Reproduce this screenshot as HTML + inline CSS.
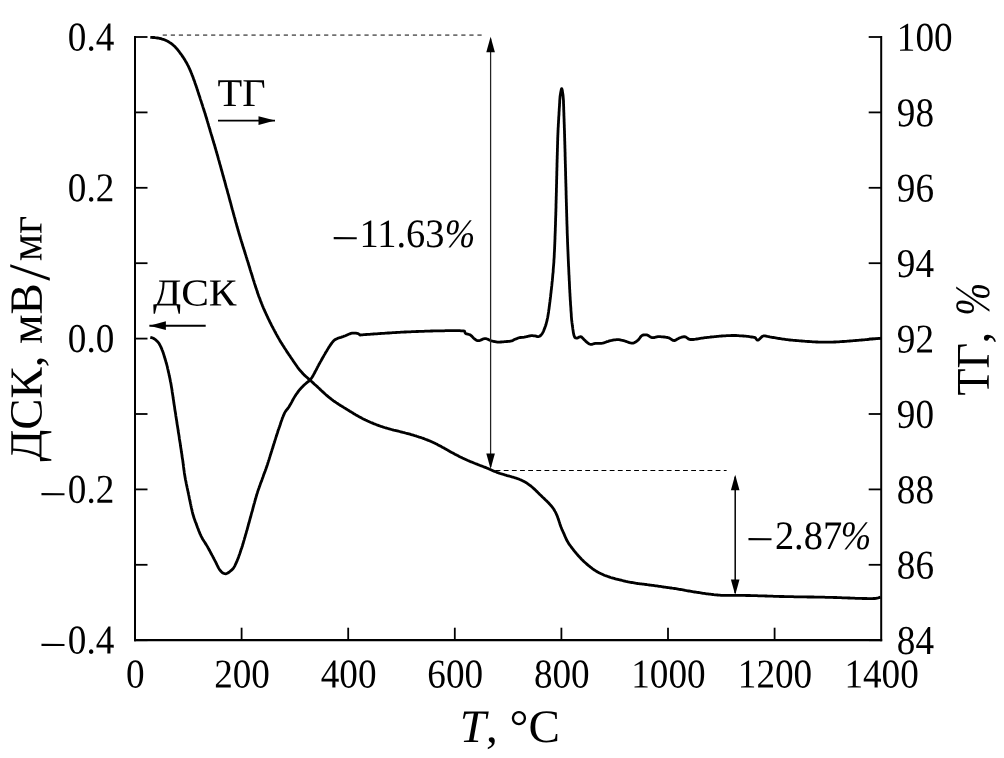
<!DOCTYPE html>
<html lang="ru">
<head>
<meta charset="utf-8">
<title>ТГ / ДСК</title>
<style>
html,body{margin:0;padding:0;background:#fff;}
body{width:1004px;height:758px;overflow:hidden;}
svg{display:block;}
</style>
</head>
<body>
<svg width="1004" height="758" viewBox="0 0 1004 758" role="img" aria-label="ТГ и ДСК кривые">
<rect width="1004" height="758" fill="#fff"/>
<g fill="none" stroke="#000" stroke-width="2" stroke-linecap="butt" stroke-linejoin="miter">
<path d="M135.0,36.0 V641.3000000000001 M881.2,36.0 V641.3000000000001"/>
<path d="M134.0,640.2 H882.2" stroke-width="2.3"/>
</g>
<g fill="none" stroke="#000" stroke-width="1.8">
<path d="M135.0,37.00 h12.5"/>
<path d="M881.2,37.00 h-12.5"/>
<path d="M135.0,112.40 h12.5"/>
<path d="M881.2,112.40 h-12.5"/>
<path d="M135.0,187.80 h12.5"/>
<path d="M881.2,187.80 h-12.5"/>
<path d="M135.0,263.20 h12.5"/>
<path d="M881.2,263.20 h-12.5"/>
<path d="M135.0,338.60 h12.5"/>
<path d="M881.2,338.60 h-12.5"/>
<path d="M135.0,414.00 h12.5"/>
<path d="M881.2,414.00 h-12.5"/>
<path d="M135.0,489.40 h12.5"/>
<path d="M881.2,489.40 h-12.5"/>
<path d="M135.0,564.80 h12.5"/>
<path d="M881.2,564.80 h-12.5"/>
<path d="M135.0,640.20 h12.5"/>
<path d="M881.2,640.20 h-12.5"/>
<path d="M241.60,640.2 v-12.5"/>
<path d="M348.20,640.2 v-12.5"/>
<path d="M454.80,640.2 v-12.5"/>
<path d="M561.40,640.2 v-12.5"/>
<path d="M668.00,640.2 v-12.5"/>
<path d="M774.60,640.2 v-12.5"/>
</g>
<path d="M162.7,35.1 H482.5" stroke="#707070" stroke-width="1.6" stroke-dasharray="4.2 3.87" fill="none"/>
<path d="M495.6,470.5 H726.6" stroke="#000" stroke-width="1.15" stroke-dasharray="4.8 3.35" fill="none"/>
<g fill="none" stroke="#000" stroke-width="2.8" stroke-linejoin="round" stroke-linecap="butt">
<polyline points="150.3,37.3 152.0,37.4 152.9,37.5 154.0,37.5 155.1,37.7 156.3,37.8 157.5,38.0 158.7,38.2 159.8,38.5 161.0,38.7 162.2,39.1 163.3,39.4 164.4,39.8 165.5,40.3 166.6,40.8 167.7,41.3 168.8,41.9 169.8,42.6 170.8,43.2 171.7,43.9 172.7,44.7 173.6,45.5 174.5,46.3 175.3,47.1 176.1,48.0 176.9,48.9 177.7,49.8 178.5,50.8 179.2,51.7 179.9,52.7 180.6,53.7 181.4,54.6 182.0,55.6 182.7,56.6 183.4,57.6 184.0,58.6 184.7,59.6 185.3,60.7 185.9,61.7 186.5,62.7 187.1,63.8 187.6,64.9 188.2,65.9 188.7,67.0 189.2,68.1 189.7,69.2 190.2,70.3 190.7,71.4 191.1,72.5 191.6,73.6 192.0,74.8 192.5,75.9 192.9,77.0 193.3,78.1 193.7,79.3 194.1,80.4 194.6,81.5 194.9,82.7 195.3,83.8 195.7,84.9 196.1,86.1 196.5,87.2 196.9,88.3 197.2,89.5 197.6,90.6 198.0,91.8 198.4,92.9 198.7,94.1 199.1,95.2 199.5,96.3 199.9,97.5 200.2,98.6 200.6,99.8 201.0,100.9 201.4,102.1 201.7,103.2 202.1,104.3 202.5,105.5 202.8,106.6 203.2,107.8 203.6,108.9 203.9,110.1 204.3,111.2 204.7,112.4 205.0,113.5 205.4,114.6 205.7,115.8 206.1,116.9 206.4,118.1 206.8,119.2 207.1,120.4 207.5,121.6 207.8,122.7 208.2,123.9 208.5,125.0 208.8,126.2 209.2,127.3 209.5,128.5 209.9,129.6 210.2,130.8 210.5,131.9 210.9,133.1 211.2,134.2 211.6,135.4 211.9,136.5 212.3,137.7 212.6,138.8 212.9,140.0 213.3,141.1 213.6,142.3 214.0,143.4 214.3,144.6 214.7,145.7 215.0,146.9 215.3,148.1 215.7,149.2 216.0,150.4 216.3,151.5 216.7,152.7 217.0,153.8 217.3,155.0 217.7,156.1 218.0,157.3 218.3,158.5 218.6,159.6 219.0,160.8 219.3,161.9 219.6,163.1 219.9,164.2 220.3,165.4 220.6,166.6 220.9,167.7 221.2,168.9 221.5,170.0 221.9,171.2 222.2,172.3 222.5,173.5 222.8,174.7 223.1,175.8 223.5,177.0 223.8,178.1 224.1,179.3 224.4,180.5 224.8,181.6 225.1,182.8 225.4,183.9 225.7,185.1 226.0,186.3 226.3,187.4 226.7,188.6 227.0,189.7 227.3,190.9 227.6,192.0 227.9,193.2 228.3,194.4 228.6,195.5 228.9,196.7 229.2,197.8 229.5,199.0 229.8,200.2 230.1,201.3 230.5,202.5 230.8,203.6 231.1,204.8 231.4,206.0 231.7,207.1 232.0,208.3 232.3,209.4 232.7,210.6 233.0,211.8 233.3,212.9 233.6,214.1 233.9,215.2 234.2,216.4 234.6,217.6 234.9,218.7 235.2,219.9 235.5,221.0 235.8,222.2 236.2,223.4 236.5,224.5 236.8,225.7 237.1,226.8 237.5,228.0 237.8,229.1 238.1,230.3 238.5,231.5 238.8,232.6 239.1,233.8 239.5,234.9 239.8,236.1 240.2,237.2 240.5,238.4 240.9,239.5 241.2,240.7 241.6,241.8 241.9,243.0 242.3,244.1 242.6,245.3 243.0,246.4 243.3,247.6 243.7,248.7 244.1,249.8 244.4,251.0 244.8,252.1 245.1,253.3 245.5,254.4 245.9,255.6 246.2,256.7 246.6,257.9 246.9,259.0 247.3,260.2 247.7,261.3 248.0,262.5 248.4,263.6 248.7,264.8 249.1,265.9 249.4,267.1 249.8,268.2 250.1,269.4 250.5,270.5 250.8,271.7 251.2,272.8 251.6,274.0 251.9,275.1 252.3,276.2 252.6,277.4 253.0,278.5 253.3,279.7 253.7,280.8 254.1,282.0 254.4,283.1 254.8,284.3 255.2,285.4 255.5,286.6 255.9,287.7 256.3,288.8 256.7,290.0 257.1,291.1 257.4,292.3 257.8,293.4 258.2,294.5 258.6,295.7 259.0,296.8 259.5,297.9 259.9,299.1 260.3,300.2 260.7,301.3 261.2,302.4 261.6,303.5 262.1,304.7 262.5,305.8 263.0,306.9 263.4,308.0 263.9,309.1 264.4,310.2 264.9,311.3 265.4,312.4 265.9,313.5 266.4,314.6 266.9,315.7 267.4,316.7 267.9,317.8 268.4,318.9 269.0,320.0 269.5,321.1 270.0,322.2 270.6,323.2 271.1,324.3 271.6,325.4 272.2,326.5 272.8,327.5 273.3,328.6 273.9,329.7 274.4,330.7 275.0,331.8 275.6,332.8 276.1,333.9 276.7,334.9 277.3,336.0 277.9,337.0 278.5,338.1 279.1,339.1 279.7,340.2 280.3,341.2 280.9,342.2 281.6,343.3 282.2,344.3 282.8,345.3 283.5,346.3 284.1,347.3 284.7,348.3 285.4,349.3 286.1,350.3 286.7,351.4 287.4,352.4 288.1,353.4 288.7,354.4 289.4,355.3 290.1,356.3 290.7,357.3 291.4,358.3 292.1,359.3 292.8,360.3 293.4,361.3 294.1,362.3 294.8,363.3 295.5,364.3 296.2,365.3 296.9,366.3 297.6,367.3 298.3,368.2 299.0,369.2 299.8,370.1 300.6,371.0 301.4,371.9 302.2,372.8 303.0,373.7 303.8,374.5 304.7,375.4 305.6,376.2 306.5,377.0 307.4,377.8 308.3,378.6 309.2,379.4 310.1,380.2 311.0,381.0 311.9,381.8 312.8,382.6 313.7,383.4 314.5,384.2 315.4,385.0 316.3,385.8 317.2,386.6 318.1,387.5 319.0,388.3 319.8,389.1 320.7,389.9 321.6,390.8 322.5,391.6 323.4,392.4 324.3,393.2 325.1,394.0 326.0,394.8 327.0,395.6 327.9,396.4 328.8,397.2 329.7,397.9 330.7,398.7 331.6,399.4 332.6,400.1 333.5,400.8 334.5,401.5 335.5,402.2 336.5,402.9 337.5,403.5 338.5,404.2 339.5,404.8 340.5,405.5 341.6,406.1 342.6,406.7 343.6,407.4 344.6,408.0 345.7,408.6 346.7,409.3 347.7,409.9 348.7,410.5 349.7,411.2 350.8,411.8 351.8,412.4 352.8,413.0 353.8,413.7 354.9,414.3 355.9,414.9 357.0,415.5 358.0,416.1 359.1,416.7 360.1,417.2 361.2,417.8 362.2,418.4 363.3,418.9 364.4,419.4 365.5,420.0 366.6,420.5 367.6,421.0 368.7,421.5 369.8,422.0 370.9,422.5 372.0,422.9 373.2,423.4 374.3,423.9 375.4,424.3 376.5,424.7 377.6,425.2 378.8,425.6 379.9,426.0 381.0,426.4 382.2,426.7 383.3,427.1 384.5,427.5 385.6,427.8 386.8,428.2 387.9,428.5 389.1,428.8 390.2,429.2 391.4,429.5 392.6,429.8 393.7,430.1 394.9,430.3 396.1,430.6 397.2,430.9 398.4,431.2 399.6,431.5 400.7,431.8 401.9,432.1 403.1,432.4 404.2,432.6 405.4,433.0 406.6,433.3 407.7,433.6 408.9,433.9 410.0,434.2 411.2,434.6 412.3,434.9 413.5,435.2 414.6,435.6 415.8,435.9 416.9,436.3 418.1,436.7 419.2,437.1 420.4,437.4 421.5,437.8 422.6,438.2 423.8,438.6 424.9,439.1 426.0,439.5 427.1,439.9 428.3,440.4 429.4,440.8 430.5,441.3 431.6,441.8 432.7,442.3 433.8,442.8 434.9,443.3 435.9,443.8 437.0,444.3 438.1,444.9 439.1,445.4 440.2,446.0 441.3,446.6 442.3,447.2 443.4,447.7 444.4,448.3 445.5,448.9 446.5,449.5 447.6,450.1 448.6,450.7 449.6,451.3 450.7,451.9 451.8,452.5 452.8,453.0 453.9,453.6 454.9,454.2 456.0,454.7 457.1,455.3 458.1,455.8 459.2,456.4 460.3,456.9 461.4,457.4 462.4,458.0 463.5,458.5 464.6,459.0 465.7,459.5 466.8,460.0 467.9,460.5 469.0,460.9 470.1,461.4 471.2,461.9 472.3,462.3 473.4,462.8 474.6,463.3 475.7,463.7 476.8,464.1 477.9,464.6 479.0,465.0 480.2,465.5 481.3,465.9 482.4,466.3 483.5,466.7 484.6,467.2 485.8,467.6 486.9,468.1 488.0,468.5 489.1,469.0 490.2,469.5 491.3,469.9 492.4,470.4 493.5,470.9 494.6,471.4 495.7,471.8 496.8,472.3 498.0,472.7 499.1,473.1 500.2,473.5 501.4,473.8 502.5,474.2 503.7,474.5 504.8,474.9 506.0,475.2 507.1,475.6 508.3,475.9 509.5,476.2 510.6,476.5 511.8,476.9 512.9,477.2 514.1,477.5 515.2,477.9 516.4,478.2 517.5,478.6 518.7,479.0 519.8,479.5 520.9,479.9 522.0,480.4 523.0,481.0 524.1,481.5 525.1,482.1 526.2,482.7 527.2,483.4 528.2,484.1 529.2,484.8 530.1,485.5 531.1,486.2 532.0,487.0 532.9,487.8 533.8,488.6 534.7,489.4 535.6,490.2 536.4,491.1 537.3,491.9 538.1,492.8 539.0,493.6 539.8,494.5 540.7,495.3 541.5,496.1 542.4,497.0 543.3,497.8 544.2,498.6 545.0,499.4 545.9,500.3 546.8,501.1 547.6,501.9 548.5,502.8 549.3,503.7 550.1,504.6 550.9,505.5 551.7,506.4 552.4,507.3 553.1,508.3 553.8,509.3 554.4,510.3 555.0,511.4 555.6,512.4 556.1,513.5 556.6,514.6 557.1,515.7 557.5,516.8 557.9,517.9 558.3,519.1 558.7,520.2 559.1,521.4 559.5,522.5 559.8,523.7 560.2,524.8 560.6,525.9 561.0,527.0 561.5,528.2 561.9,529.3 562.4,530.4 562.9,531.5 563.4,532.6 563.9,533.7 564.4,534.8 564.8,535.9 565.3,537.0 565.8,538.1 566.3,539.2 566.8,540.3 567.4,541.3 568.0,542.3 568.6,543.4 569.3,544.4 570.0,545.3 570.7,546.3 571.4,547.3 572.2,548.2 572.9,549.2 573.6,550.1 574.4,551.1 575.1,552.0 575.9,552.9 576.7,553.9 577.5,554.8 578.3,555.7 579.1,556.6 579.9,557.4 580.7,558.3 581.5,559.2 582.4,560.0 583.2,560.9 584.1,561.7 585.0,562.5 585.9,563.3 586.8,564.1 587.7,564.9 588.6,565.7 589.6,566.4 590.5,567.2 591.5,567.9 592.4,568.6 593.4,569.3 594.4,570.0 595.4,570.6 596.4,571.3 597.5,571.9 598.5,572.5 599.6,573.1 600.6,573.6 601.7,574.1 602.8,574.6 603.9,575.1 605.0,575.5 606.2,575.9 607.3,576.3 608.4,576.7 609.6,577.1 610.7,577.5 611.9,577.8 613.0,578.1 614.2,578.4 615.4,578.8 616.5,579.1 617.7,579.4 618.8,579.7 620.0,580.0 621.2,580.2 622.3,580.5 623.5,580.8 624.7,581.1 625.9,581.4 627.0,581.6 628.2,581.9 629.4,582.1 630.6,582.3 631.8,582.5 632.9,582.7 634.1,582.9 635.3,583.1 636.5,583.3 637.7,583.5 638.9,583.6 640.1,583.8 641.3,583.9 642.5,584.1 643.6,584.2 644.8,584.4 646.0,584.5 647.2,584.7 648.4,584.8 649.6,585.0 650.8,585.1 652.0,585.3 653.2,585.4 654.4,585.6 655.6,585.8 656.8,585.9 658.0,586.1 659.1,586.3 660.3,586.4 661.5,586.6 662.7,586.8 663.9,587.0 665.1,587.1 666.3,587.3 667.5,587.5 668.7,587.6 669.8,587.8 671.0,588.0 672.2,588.2 673.4,588.3 674.6,588.5 675.8,588.7 677.0,588.9 678.2,589.1 679.3,589.3 680.5,589.5 681.7,589.7 682.9,589.9 684.1,590.1 685.3,590.4 686.5,590.6 687.6,590.8 688.8,591.0 690.0,591.2 691.2,591.4 692.4,591.6 693.6,591.8 694.7,592.0 695.9,592.2 697.1,592.4 698.3,592.5 699.5,592.7 700.7,592.9 701.9,593.1 703.1,593.3 704.3,593.4 705.4,593.6 706.6,593.8 707.8,593.9 709.0,594.1 710.2,594.2 711.4,594.4 712.6,594.5 713.8,594.7 715.0,594.8 716.2,594.9 717.4,595.0 718.6,595.1 719.8,595.2 721.0,595.3 722.2,595.3 723.4,595.4 724.6,595.4 725.8,595.4 727.0,595.4 728.2,595.4 729.4,595.4 730.6,595.4 731.8,595.4 733.0,595.4 734.2,595.4 735.4,595.4 736.6,595.4 737.8,595.4 739.0,595.4 740.2,595.4 741.4,595.4 742.6,595.4 743.8,595.4 745.0,595.4 746.2,595.5 747.4,595.5 748.6,595.5 749.8,595.5 751.0,595.6 752.2,595.6 753.4,595.6 754.6,595.6 755.8,595.7 757.0,595.7 758.2,595.8 759.4,595.8 760.6,595.8 761.8,595.9 763.0,595.9 764.2,595.9 765.4,596.0 766.6,596.0 767.8,596.1 769.0,596.1 770.2,596.2 771.4,596.2 772.6,596.2 773.8,596.3 775.0,596.3 776.2,596.3 777.5,596.4 778.7,596.4 779.9,596.5 781.1,596.5 782.3,596.5 783.5,596.5 784.7,596.6 785.9,596.6 787.1,596.6 788.3,596.7 789.5,596.7 790.7,596.7 791.9,596.7 793.1,596.7 794.3,596.8 795.5,596.8 796.7,596.8 797.9,596.8 799.1,596.8 800.3,596.9 801.5,596.9 802.7,596.9 803.9,596.9 805.1,596.9 806.3,596.9 807.5,597.0 808.7,597.0 809.9,597.0 811.1,597.0 812.3,597.0 813.5,597.0 814.7,597.1 815.9,597.1 817.1,597.1 818.3,597.1 819.5,597.1 820.7,597.2 821.9,597.2 823.1,597.2 824.3,597.2 825.5,597.3 826.7,597.3 827.9,597.3 829.1,597.3 830.3,597.4 831.5,597.4 832.7,597.4 833.9,597.5 835.1,597.5 836.3,597.5 837.5,597.6 838.7,597.6 839.9,597.7 841.1,597.7 842.3,597.8 843.5,597.8 844.7,597.9 845.9,597.9 847.1,597.9 848.3,598.0 849.5,598.0 850.7,598.1 851.9,598.1 853.1,598.2 854.3,598.2 855.5,598.3 856.7,598.3 857.9,598.3 859.1,598.4 860.3,598.4 861.5,598.4 862.7,598.5 863.9,598.5 865.1,598.5 866.3,598.5 867.5,598.6 868.8,598.6 870.0,598.6 871.2,598.6 872.4,598.6 873.6,598.5 874.8,598.5 876.0,598.4 877.1,598.2 878.1,598.0 879.0,597.7 880.6,597.2"/>
<polyline points="150.3,337.3 151.5,337.6 152.7,338.0 153.7,338.5 154.7,339.2 155.7,339.9 156.6,340.7 157.5,341.6 158.3,342.5 159.0,343.4 159.6,344.5 160.2,345.6 160.7,346.6 161.2,347.7 161.7,348.8 162.1,350.0 162.6,351.1 163.0,352.2 163.4,353.3 163.7,354.5 164.1,355.6 164.4,356.8 164.8,357.9 165.1,359.1 165.5,360.2 165.8,361.4 166.1,362.5 166.5,363.7 166.8,364.8 167.1,366.0 167.4,367.2 167.6,368.3 167.9,369.5 168.2,370.7 168.4,371.9 168.7,373.0 169.0,374.2 169.2,375.4 169.5,376.6 169.7,377.7 170.0,378.9 170.2,380.1 170.4,381.3 170.7,382.4 170.9,383.6 171.1,384.8 171.3,386.0 171.5,387.2 171.7,388.3 171.9,389.5 172.1,390.7 172.2,391.9 172.4,393.1 172.6,394.3 172.8,395.5 173.0,396.7 173.1,397.8 173.3,399.0 173.5,400.2 173.7,401.4 173.8,402.6 174.0,403.8 174.2,405.0 174.4,406.2 174.6,407.3 174.7,408.5 174.9,409.7 175.1,410.9 175.3,412.1 175.5,413.3 175.7,414.5 175.8,415.7 176.0,416.8 176.2,418.0 176.4,419.2 176.6,420.4 176.8,421.6 176.9,422.8 177.1,424.0 177.3,425.2 177.5,426.3 177.7,427.5 177.9,428.7 178.1,429.9 178.2,431.1 178.4,432.3 178.6,433.5 178.8,434.6 179.0,435.8 179.2,437.0 179.3,438.2 179.5,439.4 179.7,440.6 179.9,441.8 180.1,443.0 180.3,444.1 180.4,445.3 180.6,446.5 180.8,447.7 181.0,448.9 181.2,450.1 181.3,451.3 181.5,452.5 181.7,453.6 181.9,454.8 182.0,456.0 182.2,457.2 182.4,458.4 182.6,459.6 182.8,460.8 182.9,462.0 183.1,463.1 183.2,464.3 183.4,465.5 183.5,466.7 183.7,467.9 183.8,469.1 184.0,470.3 184.2,471.5 184.3,472.7 184.5,473.9 184.7,475.0 184.9,476.2 185.1,477.4 185.3,478.6 185.5,479.8 185.8,481.0 186.0,482.1 186.2,483.3 186.5,484.5 186.7,485.7 187.0,486.8 187.2,488.0 187.5,489.2 187.7,490.4 188.0,491.5 188.2,492.7 188.5,493.9 188.7,495.1 189.0,496.2 189.2,497.4 189.4,498.6 189.7,499.8 189.9,500.9 190.2,502.1 190.4,503.3 190.7,504.5 190.9,505.6 191.2,506.8 191.4,508.0 191.7,509.2 192.0,510.3 192.2,511.5 192.5,512.7 192.8,513.8 193.1,515.0 193.5,516.1 193.8,517.3 194.2,518.4 194.6,519.6 195.0,520.7 195.4,521.8 195.9,522.9 196.3,524.1 196.7,525.2 197.1,526.3 197.5,527.5 198.0,528.6 198.4,529.7 198.8,530.8 199.3,531.9 199.7,533.1 200.2,534.2 200.7,535.2 201.2,536.3 201.8,537.4 202.3,538.5 202.9,539.5 203.6,540.5 204.2,541.5 204.9,542.5 205.5,543.6 206.2,544.6 206.8,545.6 207.4,546.6 208.0,547.7 208.6,548.7 209.1,549.8 209.7,550.8 210.3,551.9 210.8,553.0 211.4,554.0 212.0,555.1 212.6,556.1 213.1,557.2 213.7,558.2 214.2,559.3 214.8,560.4 215.3,561.4 215.9,562.5 216.4,563.6 216.9,564.7 217.5,565.8 218.0,566.8 218.5,567.9 219.1,568.9 219.7,569.9 220.5,570.8 221.4,571.8 222.4,572.7 223.5,573.3 224.6,573.7 225.7,573.8 226.7,573.5 227.8,573.0 228.9,572.3 229.9,571.5 230.9,570.7 231.9,569.9 232.7,569.0 233.5,568.1 234.1,567.1 234.7,566.1 235.2,565.0 235.7,563.9 236.2,562.8 236.7,561.7 237.2,560.6 237.6,559.5 238.1,558.4 238.5,557.3 238.9,556.1 239.3,555.0 239.7,553.9 240.1,552.7 240.5,551.6 240.8,550.4 241.2,549.3 241.6,548.2 242.0,547.0 242.4,545.9 242.7,544.7 243.1,543.6 243.4,542.4 243.7,541.3 244.1,540.1 244.4,539.0 244.7,537.8 245.1,536.7 245.4,535.5 245.7,534.4 246.1,533.2 246.4,532.0 246.7,530.9 247.1,529.7 247.4,528.6 247.7,527.4 248.0,526.3 248.3,525.1 248.6,523.9 249.0,522.8 249.3,521.6 249.6,520.5 249.9,519.3 250.2,518.2 250.6,517.0 250.9,515.8 251.2,514.7 251.5,513.5 251.8,512.4 252.2,511.2 252.5,510.1 252.8,508.9 253.1,507.7 253.4,506.6 253.7,505.4 254.0,504.3 254.4,503.1 254.7,501.9 255.0,500.8 255.3,499.6 255.7,498.5 256.0,497.3 256.3,496.2 256.7,495.0 257.0,493.9 257.4,492.7 257.7,491.6 258.1,490.4 258.5,489.3 258.9,488.2 259.3,487.0 259.7,485.9 260.1,484.8 260.5,483.6 260.9,482.5 261.4,481.4 261.8,480.3 262.2,479.1 262.6,478.0 263.0,476.9 263.4,475.7 263.8,474.6 264.2,473.5 264.6,472.4 265.1,471.2 265.5,470.1 265.9,469.0 266.3,467.8 266.7,466.7 267.1,465.6 267.5,464.4 267.8,463.3 268.2,462.1 268.5,461.0 268.9,459.9 269.3,458.7 269.6,457.6 270.0,456.4 270.3,455.3 270.7,454.1 271.1,453.0 271.4,451.8 271.8,450.7 272.1,449.5 272.5,448.4 272.9,447.3 273.2,446.1 273.6,445.0 273.9,443.8 274.3,442.7 274.7,441.5 275.0,440.4 275.4,439.2 275.7,438.1 276.1,436.9 276.5,435.8 276.8,434.7 277.2,433.5 277.6,432.4 277.9,431.2 278.3,430.1 278.7,429.0 279.1,427.8 279.5,426.7 279.9,425.5 280.3,424.4 280.6,423.3 281.0,422.1 281.4,421.0 281.8,419.9 282.2,418.7 282.6,417.6 283.1,416.5 283.5,415.4 284.0,414.3 284.5,413.2 285.1,412.1 285.7,411.1 286.4,410.1 287.2,409.2 288.0,408.3 288.7,407.3 289.3,406.3 289.9,405.3 290.5,404.2 291.1,403.2 291.7,402.1 292.2,401.1 292.8,400.0 293.4,398.9 294.0,397.9 294.6,396.9 295.2,395.9 295.9,394.8 296.6,393.8 297.3,392.9 298.0,391.9 298.7,390.9 299.4,390.0 300.2,389.1 301.0,388.2 301.9,387.3 302.7,386.5 303.6,385.6 304.4,384.8 305.3,384.0 306.2,383.2 307.2,382.4 308.1,381.7 309.1,381.0 309.9,380.1 310.7,379.2 311.4,378.2 312.1,377.2 312.7,376.2 313.3,375.2 313.9,374.1 314.5,373.0 315.0,372.0 315.6,370.9 316.2,369.9 316.7,368.8 317.3,367.7 317.8,366.7 318.4,365.6 318.9,364.5 319.5,363.5 320.1,362.4 320.7,361.4 321.3,360.3 321.9,359.3 322.4,358.2 323.0,357.2 323.6,356.2 324.2,355.1 324.8,354.1 325.4,353.0 326.0,352.0 326.7,351.0 327.3,349.9 327.9,348.9 328.5,347.9 329.2,346.9 329.8,345.9 330.5,344.9 331.2,343.9 331.9,342.9 332.6,342.0 333.4,341.1 334.3,340.2 335.3,339.5 336.4,338.9 337.5,338.4 338.6,338.0 339.8,337.6 340.9,337.3 342.1,336.9 343.2,336.6 344.3,336.1 345.4,335.7 346.5,335.2 347.6,334.7 348.7,334.2 349.8,333.8 351.0,333.4 352.1,333.2 353.4,333.1 354.6,333.1 355.8,333.2 357.0,333.4 358.2,333.6 359.2,334.3 360.2,335.0 361.4,334.9 362.6,334.8 363.8,334.7 365.0,334.6 366.2,334.5 367.4,334.4 368.6,334.3 369.8,334.3 371.0,334.2 372.2,334.1 373.4,334.0 374.6,333.9 375.8,333.9 377.0,333.8 378.2,333.7 379.4,333.6 380.6,333.5 381.8,333.4 383.0,333.4 384.2,333.3 385.4,333.2 386.6,333.1 387.8,333.0 389.0,333.0 390.2,332.9 391.4,332.8 392.6,332.7 393.8,332.6 395.0,332.6 396.2,332.5 397.4,332.4 398.6,332.4 399.8,332.3 401.0,332.2 402.2,332.2 403.4,332.1 404.6,332.0 405.8,332.0 407.0,331.9 408.2,331.9 409.4,331.8 410.6,331.8 411.8,331.7 413.0,331.7 414.2,331.6 415.4,331.6 416.6,331.5 417.8,331.5 419.0,331.4 420.2,331.4 421.4,331.3 422.6,331.3 423.8,331.3 425.0,331.2 426.2,331.2 427.4,331.1 428.6,331.1 429.8,331.1 431.0,331.0 432.2,331.0 433.4,330.9 434.6,330.9 435.8,330.9 437.0,330.9 438.2,330.8 439.4,330.8 440.6,330.8 441.8,330.8 443.0,330.8 444.2,330.8 445.4,330.7 446.6,330.7 447.8,330.7 449.0,330.7 450.2,330.7 451.4,330.6 452.6,330.6 453.8,330.6 455.0,330.6 456.2,330.6 457.4,330.7 458.6,330.7 459.8,330.7 461.0,330.8 462.2,330.8 463.4,330.9 464.5,331.1 464.9,332.4 465.6,333.4 466.6,333.9 467.8,334.2 469.0,334.5 470.2,334.9 471.1,335.6 472.0,336.4 472.8,337.3 473.7,338.2 474.6,339.0 475.6,339.7 476.6,340.3 477.7,340.6 479.0,340.6 480.2,340.3 481.3,339.9 482.4,339.3 483.5,338.9 484.7,338.7 485.9,338.7 487.1,339.0 488.2,339.4 489.3,340.0 490.4,340.5 491.5,340.9 492.6,341.2 493.8,341.5 495.0,341.7 496.2,341.9 497.4,342.1 498.6,342.1 499.8,342.1 501.0,342.0 502.2,341.9 503.4,341.8 504.6,341.7 505.8,341.6 507.0,341.5 508.2,341.4 509.4,341.3 510.5,341.1 511.7,340.9 512.8,340.4 513.9,339.8 515.0,339.3 516.1,338.9 517.2,338.4 518.3,338.0 519.5,337.7 520.7,337.5 521.9,337.4 523.1,337.3 524.3,337.2 525.5,336.9 526.6,336.7 527.8,336.3 529.0,336.0 530.1,335.8 531.3,335.6 532.5,335.7 533.7,335.8 534.9,335.9 536.1,336.2 537.3,336.6 538.4,336.7 539.5,336.3 540.6,335.5 541.4,334.6 542.2,333.6 542.8,332.6 543.3,331.6 543.8,330.5 544.2,329.3 544.7,328.2 545.1,327.1 545.5,326.0 545.9,324.8 546.2,323.7 546.5,322.5 546.8,321.3 547.1,320.2 547.3,319.0 547.6,317.8 547.8,316.7 548.0,315.5 548.2,314.3 548.4,313.1 548.6,311.9 548.7,310.7 548.9,309.5 549.1,308.3 549.2,307.1 549.4,306.0 549.5,304.8 549.7,303.6 549.8,302.4 550.0,301.2 550.1,300.0 550.3,298.8 550.4,297.6 550.6,296.4 550.7,295.2 550.8,294.0 551.0,292.8 551.1,291.6 551.2,290.5 551.4,289.3 551.5,288.1 551.6,286.9 551.8,285.7 551.9,284.5 552.0,283.3 552.1,282.1 552.3,280.9 552.4,279.7 552.5,278.5 552.6,277.3 552.7,276.1 552.8,274.9 552.9,273.7 553.1,272.5 553.2,271.3 553.2,270.1 553.3,268.9 553.4,267.7 553.5,266.5 553.6,265.3 553.7,264.2 553.8,263.0 553.9,261.8 553.9,260.6 554.0,259.4 554.1,258.2 554.2,257.0 554.2,255.8 554.3,254.6 554.3,253.4 554.4,252.2 554.5,251.0 554.5,249.8 554.6,248.6 554.6,247.4 554.7,246.2 554.7,245.0 554.8,243.8 554.8,242.6 554.9,241.4 554.9,240.2 555.0,239.0 555.0,237.8 555.0,236.6 555.1,235.4 555.1,234.2 555.2,233.0 555.2,231.8 555.3,230.6 555.3,229.4 555.3,228.2 555.4,227.0 555.4,225.8 555.5,224.6 555.5,223.4 555.5,222.2 555.6,221.0 555.6,219.8 555.6,218.6 555.7,217.4 555.7,216.2 555.8,215.0 555.8,213.8 555.8,212.6 555.9,211.4 555.9,210.2 555.9,209.0 556.0,207.8 556.0,206.6 556.0,205.4 556.0,204.2 556.1,203.0 556.1,201.8 556.1,200.6 556.2,199.4 556.2,198.2 556.2,197.0 556.3,195.7 556.3,194.5 556.3,193.3 556.4,192.1 556.4,190.9 556.4,189.7 556.4,188.5 556.5,187.3 556.5,186.1 556.5,184.9 556.6,183.7 556.6,182.5 556.6,181.3 556.6,180.1 556.7,178.9 556.7,177.7 556.7,176.5 556.8,175.3 556.8,174.1 556.8,172.9 556.8,171.7 556.9,170.5 556.9,169.3 556.9,168.1 557.0,166.9 557.0,165.7 557.0,164.5 557.0,163.3 557.1,162.1 557.1,160.9 557.1,159.7 557.2,158.5 557.2,157.3 557.2,156.1 557.3,154.9 557.3,153.7 557.3,152.5 557.4,151.3 557.4,150.1 557.4,148.9 557.5,147.7 557.5,146.5 557.5,145.3 557.6,144.1 557.6,142.9 557.6,141.7 557.7,140.5 557.7,139.3 557.7,138.1 557.8,136.9 557.8,135.7 557.9,134.5 557.9,133.3 558.0,132.1 558.0,130.9 558.1,129.7 558.1,128.5 558.2,127.3 558.3,126.1 558.3,124.9 558.4,123.7 558.5,122.5 558.5,121.3 558.6,120.1 558.7,118.9 558.7,117.7 558.8,116.5 558.9,115.3 559.0,114.1 559.0,112.9 559.1,111.7 559.2,110.5 559.2,109.3 559.3,108.1 559.4,106.9 559.5,105.7 559.5,104.5 559.6,103.3 559.7,102.1 559.7,101.0 559.8,99.8 559.9,98.6 560.0,97.4 560.1,96.2 560.3,95.0 560.5,93.8 560.7,92.6 561.0,91.0 561.3,89.5 561.6,88.6 561.8,88.7 562.1,89.6 562.4,91.1 562.6,92.6 562.8,93.8 563.0,95.0 563.1,96.2 563.2,97.4 563.3,98.6 563.4,99.8 563.5,101.0 563.5,102.2 563.5,103.4 563.6,104.6 563.6,105.8 563.7,107.0 563.7,108.2 563.7,109.4 563.8,110.6 563.8,111.8 563.9,113.0 563.9,114.2 563.9,115.4 564.0,116.6 564.0,117.8 564.1,119.0 564.1,120.2 564.1,121.4 564.2,122.6 564.2,123.8 564.3,125.0 564.3,126.2 564.3,127.4 564.4,128.6 564.4,129.8 564.5,131.0 564.5,132.2 564.5,133.4 564.6,134.6 564.6,135.8 564.6,137.0 564.7,138.2 564.7,139.4 564.7,140.6 564.8,141.8 564.8,143.0 564.8,144.2 564.9,145.4 564.9,146.6 564.9,147.8 565.0,149.0 565.0,150.2 565.0,151.4 565.1,152.6 565.1,153.8 565.1,155.0 565.1,156.2 565.2,157.4 565.2,158.6 565.2,159.8 565.3,161.0 565.3,162.2 565.3,163.4 565.4,164.6 565.4,165.8 565.4,167.0 565.5,168.2 565.5,169.4 565.5,170.6 565.6,171.8 565.6,173.0 565.6,174.2 565.6,175.4 565.7,176.6 565.7,177.8 565.7,179.0 565.8,180.2 565.8,181.4 565.8,182.6 565.9,183.8 565.9,185.0 565.9,186.2 566.0,187.4 566.0,188.6 566.0,189.8 566.1,191.0 566.1,192.2 566.1,193.4 566.1,194.6 566.2,195.8 566.2,197.0 566.2,198.2 566.3,199.4 566.3,200.6 566.3,201.8 566.4,203.0 566.4,204.2 566.4,205.4 566.5,206.6 566.5,207.8 566.5,209.0 566.6,210.2 566.6,211.4 566.6,212.6 566.7,213.8 566.7,215.0 566.7,216.2 566.8,217.4 566.8,218.6 566.8,219.8 566.9,221.0 566.9,222.2 566.9,223.4 567.0,224.6 567.0,225.8 567.1,227.0 567.1,228.2 567.1,229.4 567.2,230.6 567.2,231.8 567.2,233.0 567.3,234.2 567.3,235.4 567.4,236.6 567.4,237.8 567.5,239.0 567.5,240.2 567.5,241.4 567.6,242.6 567.6,243.8 567.7,245.0 567.7,246.2 567.8,247.4 567.8,248.6 567.9,249.8 567.9,251.0 568.0,252.2 568.0,253.4 568.1,254.6 568.1,255.8 568.2,257.0 568.2,258.2 568.3,259.4 568.3,260.6 568.4,261.8 568.4,263.0 568.5,264.2 568.5,265.4 568.6,266.6 568.7,267.8 568.7,269.0 568.8,270.2 568.8,271.4 568.9,272.6 568.9,273.8 569.0,275.0 569.1,276.2 569.1,277.4 569.2,278.6 569.2,279.8 569.3,281.0 569.4,282.2 569.4,283.4 569.5,284.6 569.5,285.8 569.6,287.0 569.6,288.2 569.7,289.4 569.8,290.6 569.8,291.8 569.9,293.0 570.0,294.2 570.0,295.4 570.1,296.6 570.2,297.8 570.2,299.0 570.3,300.2 570.4,301.4 570.5,302.6 570.5,303.8 570.6,305.0 570.7,306.2 570.8,307.4 570.9,308.6 570.9,309.8 571.0,311.0 571.1,312.2 571.2,313.4 571.3,314.6 571.3,315.8 571.4,317.0 571.5,318.2 571.6,319.4 571.7,320.6 571.9,321.7 572.0,322.9 572.2,324.1 572.3,325.3 572.5,326.5 572.7,327.7 572.8,328.9 573.0,330.1 573.2,331.3 573.3,332.4 573.6,333.6 573.8,334.8 574.2,335.9 574.6,337.1 575.5,337.9 576.7,338.2 577.9,337.8 579.2,337.1 580.3,336.7 581.4,336.9 582.3,337.7 583.1,338.6 583.9,339.4 584.8,340.3 585.6,341.1 586.5,341.9 587.4,342.7 588.4,343.4 589.5,344.0 590.7,344.4 591.8,344.4 593.0,344.0 594.2,343.6 595.3,343.4 596.5,343.3 597.7,343.3 598.9,343.4 600.1,343.4 601.3,343.3 602.5,343.2 603.7,342.9 604.8,342.5 606.0,342.1 607.1,341.6 608.2,341.3 609.4,340.9 610.6,340.6 611.7,340.4 612.9,340.1 614.1,339.9 615.3,339.8 616.5,339.7 617.7,339.6 618.9,339.7 620.1,339.8 621.3,340.1 622.4,340.3 623.6,340.6 624.8,341.0 625.9,341.4 627.0,341.8 628.1,342.2 629.3,342.6 630.5,342.9 631.7,343.1 632.9,343.1 634.0,342.8 635.1,342.3 636.1,341.6 637.1,340.8 638.1,340.1 638.9,339.2 639.6,338.2 640.3,337.2 641.1,336.3 642.0,335.5 643.1,335.0 644.3,334.8 645.6,334.8 646.7,334.9 647.8,335.3 648.9,335.9 649.9,336.6 651.0,337.3 652.1,337.7 653.3,337.7 654.5,337.5 655.7,337.2 656.8,336.9 658.0,336.7 659.2,336.7 660.4,336.7 661.6,336.8 662.9,336.9 664.1,337.0 665.3,337.1 666.4,337.3 667.6,337.5 668.8,337.8 669.9,338.4 671.0,339.1 672.0,339.8 673.1,340.4 674.2,340.5 675.3,340.3 676.3,339.7 677.4,339.1 678.5,338.5 679.5,337.9 680.7,337.5 681.8,337.1 683.0,336.8 684.2,336.6 685.3,336.8 686.3,337.4 687.4,338.1 688.4,338.9 689.6,339.3 690.7,339.5 691.9,339.5 693.1,339.5 694.3,339.3 695.5,339.2 696.7,339.0 697.9,338.8 699.1,338.6 700.3,338.4 701.5,338.2 702.6,338.1 703.8,337.9 705.0,337.7 706.2,337.6 707.4,337.4 708.6,337.3 709.8,337.2 711.0,337.0 712.2,336.9 713.4,336.8 714.6,336.7 715.8,336.6 717.0,336.4 718.2,336.3 719.4,336.2 720.6,336.1 721.8,336.0 723.0,335.9 724.2,335.9 725.4,335.8 726.6,335.7 727.8,335.7 729.0,335.6 730.2,335.6 731.4,335.5 732.5,335.5 733.7,335.5 734.9,335.5 736.1,335.5 737.3,335.6 738.5,335.7 739.7,335.8 740.9,335.8 742.1,335.9 743.3,336.0 744.5,336.1 745.7,336.2 746.9,336.3 748.1,336.4 749.3,336.6 750.5,336.8 751.7,337.0 752.9,337.2 754.1,337.4 755.2,337.7 756.0,338.7 756.8,339.8 757.7,340.1 758.7,339.8 759.6,339.0 760.6,338.0 761.6,337.0 762.7,336.2 763.8,335.8 765.0,335.9 766.1,336.1 767.3,336.4 768.5,336.6 769.7,336.9 770.9,337.1 772.0,337.3 773.2,337.5 774.4,337.7 775.6,337.9 776.8,338.1 778.0,338.3 779.2,338.5 780.3,338.7 781.5,338.9 782.7,339.1 783.9,339.2 785.1,339.4 786.3,339.6 787.5,339.7 788.7,339.9 789.9,340.0 791.1,340.1 792.2,340.2 793.4,340.3 794.6,340.4 795.8,340.5 797.0,340.6 798.2,340.7 799.4,340.8 800.6,340.9 801.8,341.0 803.0,341.1 804.2,341.2 805.4,341.3 806.6,341.4 807.8,341.5 809.0,341.5 810.2,341.6 811.4,341.7 812.6,341.8 813.8,341.8 815.0,341.9 816.2,342.0 817.4,342.0 818.6,342.1 819.8,342.1 821.0,342.2 822.2,342.2 823.4,342.2 824.6,342.2 825.8,342.2 827.0,342.2 828.2,342.2 829.4,342.2 830.6,342.1 831.8,342.1 833.0,342.1 834.2,342.0 835.4,342.0 836.6,341.9 837.8,341.8 839.0,341.8 840.2,341.7 841.4,341.6 842.6,341.5 843.8,341.5 845.0,341.4 846.2,341.3 847.4,341.2 848.6,341.1 849.8,341.0 851.0,340.9 852.2,340.8 853.4,340.7 854.6,340.6 855.8,340.5 857.0,340.4 858.2,340.3 859.4,340.2 860.6,340.1 861.8,340.0 863.0,339.9 864.2,339.8 865.4,339.7 866.6,339.6 867.8,339.5 868.9,339.4 870.1,339.2 871.3,339.1 872.5,339.0 873.7,338.9 874.9,338.8 876.1,338.7 877.3,338.6 878.5,338.4 879.7,338.3 880.9,338.2"/>
</g>
<path d="M490.6,38.8 V466.9" stroke="#222" stroke-width="1.25" fill="none"/><path d="M490.6,36.8 l-4.3,15.5 h8.6 z" fill="#000"/><path d="M490.6,468.9 l-4.3,-15.5 h8.6 z" fill="#000"/>
<path d="M735.2,476.8 V592.9" stroke="#000" stroke-width="1.5" fill="none"/><path d="M735.2,474.8 l-4.3,15.5 h8.6 z" fill="#000"/><path d="M735.2,594.9 l-4.3,-15.5 h8.6 z" fill="#000"/>
<path d="M218,120.6 H275" stroke="#000" stroke-width="1.9" fill="none"/><path d="M275,120.6 l-16.5,-4.4 v8.8 z" fill="#000"/>
<path d="M149.4,325.7 H205.7" stroke="#000" stroke-width="1.9" fill="none"/><path d="M149.4,325.7 l16.5,-4.4 v8.8 z" fill="#000"/>
<g font-family="'Liberation Serif', serif" fill="#000">
<text transform="translate(114.3,50.4) rotate(0.03) scale(0.968,1.065)" font-size="38.4" text-anchor="end">0.4</text>
<text transform="translate(114.3,201.2) rotate(0.03) scale(0.968,1.065)" font-size="38.4" text-anchor="end">0.2</text>
<text transform="translate(114.3,352.0) rotate(0.03) scale(0.968,1.065)" font-size="38.4" text-anchor="end">0.0</text>
<text transform="translate(114.3,502.8) rotate(0.03) scale(0.968,1.065)" font-size="38.4" text-anchor="end">0.2</text>
<text transform="translate(39.1,507.4) rotate(0.03) scale(1.29,1.05)" font-size="38.4">−</text>
<text transform="translate(114.3,653.6) rotate(0.03) scale(0.968,1.065)" font-size="38.4" text-anchor="end">0.4</text>
<text transform="translate(39.1,658.2) rotate(0.03) scale(1.29,1.05)" font-size="38.4">−</text>
<text transform="translate(896.8,50.8) rotate(0.03) scale(0.968,1.065)" font-size="38.4" text-anchor="start">100</text>
<text transform="translate(896.8,126.2) rotate(0.03) scale(0.968,1.065)" font-size="38.4" text-anchor="start">98</text>
<text transform="translate(896.8,201.6) rotate(0.03) scale(0.968,1.065)" font-size="38.4" text-anchor="start">96</text>
<text transform="translate(896.8,277.0) rotate(0.03) scale(0.968,1.065)" font-size="38.4" text-anchor="start">94</text>
<text transform="translate(896.8,352.4) rotate(0.03) scale(0.968,1.065)" font-size="38.4" text-anchor="start">92</text>
<text transform="translate(896.8,427.8) rotate(0.03) scale(0.968,1.065)" font-size="38.4" text-anchor="start">90</text>
<text transform="translate(896.8,503.2) rotate(0.03) scale(0.968,1.065)" font-size="38.4" text-anchor="start">88</text>
<text transform="translate(896.8,578.6) rotate(0.03) scale(0.968,1.065)" font-size="38.4" text-anchor="start">86</text>
<text transform="translate(896.8,654.0) rotate(0.03) scale(0.968,1.065)" font-size="38.4" text-anchor="start">84</text>
<text transform="translate(135.4,687.4) rotate(0.03) scale(0.968,1.065)" font-size="38.4" text-anchor="middle">0</text>
<text transform="translate(242.0,687.4) rotate(0.03) scale(0.968,1.065)" font-size="38.4" text-anchor="middle">200</text>
<text transform="translate(348.6,687.4) rotate(0.03) scale(0.968,1.065)" font-size="38.4" text-anchor="middle">400</text>
<text transform="translate(455.2,687.4) rotate(0.03) scale(0.968,1.065)" font-size="38.4" text-anchor="middle">600</text>
<text transform="translate(561.8,687.4) rotate(0.03) scale(0.968,1.065)" font-size="38.4" text-anchor="middle">800</text>
<text transform="translate(668.4,687.4) rotate(0.03) scale(0.968,1.065)" font-size="38.4" text-anchor="middle">1000</text>
<text transform="translate(775.0,687.4) rotate(0.03) scale(0.968,1.065)" font-size="38.4" text-anchor="middle">1200</text>
<text transform="translate(881.6,687.4) rotate(0.03) scale(0.968,1.065)" font-size="38.4" text-anchor="middle">1400</text>
<text transform="translate(459.8,742) rotate(0.03) scale(1.014,1)" font-size="46.5" text-anchor="start"><tspan font-style="italic">T</tspan>, °C</text>
<text transform="translate(41.6,461.5) rotate(-89.97) scale(1.0115,1.0)" font-size="46.2" text-anchor="start">ДСК, мВ</text>
<text transform="translate(49.3,280.7) rotate(-89.97) scale(1.0,1.0)" font-size="59.2" text-anchor="start">/</text>
<text transform="translate(41.6,261.3) rotate(-89.97) scale(0.94,1.0)" font-size="46.2" text-anchor="start">мг</text>
<text transform="translate(988.8,395.6) rotate(-89.97) scale(0.94,1.0)" font-size="47" text-anchor="start">ТГ</text>
<text transform="translate(988.8,343.6) rotate(-89.97) scale(1.0,1.0)" font-size="47" text-anchor="start">,</text>
<text transform="translate(988.8,315.8) rotate(-89.97) scale(0.845,1.05)" font-size="47" text-anchor="start"><tspan font-style="italic">%</tspan></text>
<text transform="translate(217.6,106.1) rotate(0.03) scale(1.03,1)" font-size="39.2" text-anchor="start">ТГ</text>
<text transform="translate(152.9,305.5) rotate(0.03) scale(1.075,0.99)" font-size="38.6" text-anchor="start">ДСК</text>
<text transform="translate(331.3,251.4) rotate(0.03) scale(1.29,1.05)" font-size="38.4">−</text>
<text transform="translate(359.5,247) rotate(0.03) scale(1.0,1.05)" font-size="38.4" text-anchor="start">11.63</text>
<text transform="translate(444.7,247) rotate(0.03) scale(0.95,1.05)" font-size="38.4" text-anchor="start"><tspan font-style="italic">%</tspan></text>
<text transform="translate(746.1,552.6) rotate(0.03) scale(1.29,1.05)" font-size="38.4">−</text>
<text transform="translate(774.9,549) rotate(0.03) scale(1.0,1.05)" font-size="38.4" text-anchor="start">2.87</text>
<text transform="translate(840.7,549) rotate(0.03) scale(0.95,1.05)" font-size="38.4" text-anchor="start"><tspan font-style="italic">%</tspan></text>
</g>
</svg>
</body>
</html>
